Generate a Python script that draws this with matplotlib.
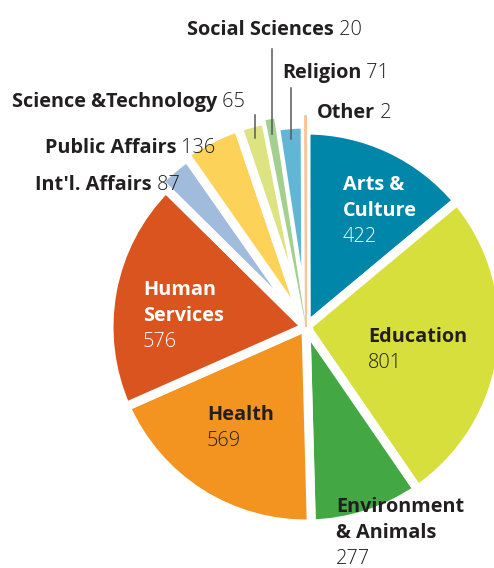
import numpy as np
import matplotlib
matplotlib.use("Agg")
import matplotlib.pyplot as plt

# grants by field, clockwise from 12 o'clock
names = ["Arts & Culture", "Education", "Environment & Animals", "Health",
         "Human Services", "Int'l. Affairs", "Public Affairs",
         "Science &Technology", "Social Sciences", "Religion", "Other"]
counts = [422, 801, 277, 569, 576, 87, 136, 65, 20, 71, 2]
colors = ["#0086a8", "#d6df3c", "#43a744", "#f39320", "#d9541e", "#a0bbdc",
          "#fdd258", "#dde381", "#a3cf8f", "#61b6d4", "#f9c49a"]

plt.rcParams['font.family'] = ['Open Sans', 'DejaVu Sans']
DARK = "#231f20"
FS = 14.3

W, H = 494, 568
CX, CY, R = 306, 327, 197   # pie centre / radius in pixels

fig = plt.figure(figsize=(W / 100, H / 100), dpi=100)
ax = fig.add_axes([0, 0, 1, 1])
ax.axis('off')

wedges, _ = ax.pie(counts, colors=colors, startangle=90, counterclock=False,
                   radius=1, wedgeprops=dict(edgecolor='white', linewidth=6.5))

# small slices poke out a bit further
extra = {5: 1.05, 6: 1.07, 7: 1.07, 8: 1.07, 9: 1.03, 10: 1.07}
for i, f in extra.items():
    wedges[i].set_radius(f)
# tiny slices stay visible over the white gaps
wedges[8].set_linewidth(0)
wedges[8].set_zorder(3)
wedges[10].set_edgecolor(colors[10])
wedges[10].set_linewidth(1.5)
wedges[10].set_zorder(3)

ax.set_xlim(-CX / R, (W - CX) / R)
ax.set_ylim(-(H - CY) / R, CY / R)
ax.set_aspect('equal')


def px(x, y):
    return (x - CX) / R, (CY - y) / R


def label(x, y, lines, color=DARK):
    # lines: list of (text, bold)
    for k, (txt, bold) in enumerate(lines):
        ax.text(*px(x, y + 26 * k), txt, fontsize=FS, color=color,
                fontweight='bold' if bold else 'light', va='baseline', ha='left')


def inline(x, y, name, num):
    t = ax.text(*px(x, y), name, fontsize=FS, color=DARK, fontweight='bold',
                va='baseline', ha='left')
    ax.annotate(" " + str(num), xy=(1, 0), xycoords=t, fontsize=FS, color=DARK,
                fontweight='light', va='bottom', ha='left')


# labels inside / beside the big slices
label(343, 190, [("Arts &", True), ("Culture", True), (str(counts[0]), False)], 'white')
label(368, 342, [("Education", True), (str(counts[1]), False)])
label(336, 512, [("Environment", True), ("& Animals", True), (str(counts[2]), False)])
label(207, 420, [("Health", True), (str(counts[3]), False)])
label(143, 295, [("Human", True), ("Services", True), (str(counts[4]), False)], 'white')

# small slices, labelled outside
inline(35, 190, names[5], counts[5])
inline(45, 153, names[6], counts[6])
inline(12, 107, names[7], counts[7])
inline(187, 35, names[8], counts[8])
inline(282, 78, names[9], counts[9])
inline(317, 118, names[10], counts[10])

# leader lines from the top labels down into their slices
theta = [(w.theta1 + w.theta2) / 2 for w in wedges]
for i, ytop in [(7, 115), (8, 49), (9, 88)]:
    r = wedges[i].r * 0.93
    xe, ye = r * np.cos(np.radians(theta[i])), r * np.sin(np.radians(theta[i]))
    ax.plot([xe, xe], [ye, px(0, ytop)[1]], color="#58595b", lw=1.1, zorder=4)

fig.savefig("out.png", dpi=100)
